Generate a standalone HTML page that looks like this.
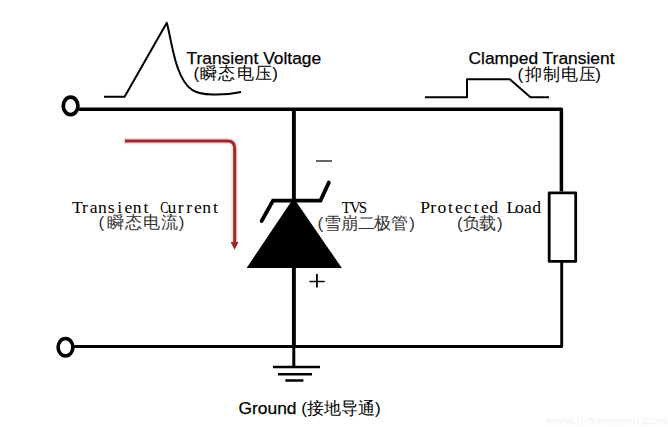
<!DOCTYPE html>
<html><head><meta charset="utf-8">
<style>
html,body{margin:0;padding:0;background:#fff;}
body{width:668px;height:427px;overflow:hidden;position:relative;}
svg{position:absolute;left:0;top:0;}
.s,.cj,.m{position:absolute;white-space:pre;line-height:1;color:#000;}
.s{font-family:"Liberation Sans",sans-serif;font-size:17.4px;-webkit-text-stroke:0.25px #000;}
.cj{font-family:"Liberation Sans",sans-serif;font-size:17px}
.m{font-family:"Liberation Serif",serif;}
.k{display:inline-block;text-align:center;}
.c{display:inline-block;width:8.6px;text-align:center;transform:scaleX(1.0);}
</style></head>
<body>
<svg width="668" height="427" viewBox="0 0 668 427">
  <g fill="none" stroke="#000" stroke-linecap="butt" stroke-linejoin="round">
    <ellipse cx="70.6" cy="105.9" rx="7.3" ry="8.7" stroke-width="3.7"/>
    <ellipse cx="65.5" cy="347.2" rx="7.4" ry="8.7" stroke-width="3.6"/>
    <path d="M78.5,109.3 H561.4 V191.5" stroke-width="3.5"/>
    <path d="M74,346.5 H561.7 V262" stroke-width="2.9"/>
    <path d="M293.9,109 V346" stroke-width="3.9"/>
    <path d="M293.8,346 V366" stroke-width="3"/>
    <rect x="549.2" y="192.9" width="26.5" height="68.5" stroke-width="2.8"/>
    <path d="M261.6,221 L273,200.6 H320.5 L328.8,182.6" stroke-width="3.8" stroke-linejoin="miter" stroke-linecap="round"/>
    <path d="M104,96.7 H124.6 L166.8,22.8 C172,42 175,78 192,89.8 C201,95.5 222,96 241,92" stroke-width="2"/>
    <path d="M425,97.2 H467 V79.3 H509.8 L530.5,97.2 H549" stroke-width="2"/>
    <path d="M273,367 H320 M278,374.3 H312 M285.3,380.5 H303.4" stroke-width="2.5"/>
    <path d="M309.4,281.5 H324.8" stroke-width="1.4"/>
    <path d="M316.9,274 V287.6" stroke-width="1.8"/>
    <path d="M316,161 H332" stroke-width="1.5" stroke="#333"/>
    <path d="M124,141.1 H227.5 Q234.7,141.1 234.7,148.3 V244" stroke="#fadcdc" stroke-width="6.5"/>
    <path d="M125,141.1 H227.5 Q234.7,141.1 234.7,148.3 V243" stroke="#982a2e" stroke-width="3"/>
  </g>
  <polygon points="293.6,198 341.8,268 246.6,268" fill="#000"/>
  <polygon points="230.6,242 238.6,242 234.6,249.8" fill="#982a2e"/>
</svg>
<div class="s" style="left:186.5px;top:50px;">Transient Voltage</div>
<div class="cj" style="left:193.5px;top:65px;font-size:17px;color:#000"><span style="margin-right:0px">(</span><span class="k" style="width:18.5px">瞬</span><span class="k" style="width:18.5px">态</span><span class="k" style="width:18.5px">电</span><span class="k" style="width:18.5px">压</span><span style="margin-left:-1px">)</span></div>
<div class="s" style="left:468.5px;top:50px;">Clamped Transient</div>
<div class="cj" style="left:517.5px;top:65.5px;font-size:17px;color:#000"><span style="margin-right:1px">(</span><span class="k" style="width:18px">抑</span><span class="k" style="width:18px">制</span><span class="k" style="width:18px">电</span><span class="k" style="width:18px">压</span><span style="margin-left:-1px">)</span></div>
<div class="m" style="left:72px;top:199px;font-size:17.6px"><span class="c" style="width:8.7px;">T</span><span class="c" style="width:8.7px;">r</span><span class="c" style="width:8.7px;">a</span><span class="c" style="width:8.7px;">n</span><span class="c" style="width:8.7px;">s</span><span class="c" style="width:8.7px;">i</span><span class="c" style="width:8.7px;">e</span><span class="c" style="width:8.7px;">n</span><span class="c" style="width:8.7px;">t</span><span class="c" style="width:8.7px">&nbsp;</span><span class="c" style="width:8.7px;transform:scaleX(0.7);">C</span><span class="c" style="width:8.7px;">u</span><span class="c" style="width:8.7px;">r</span><span class="c" style="width:8.7px;">r</span><span class="c" style="width:8.7px;">e</span><span class="c" style="width:8.7px;">n</span><span class="c" style="width:8.7px;">t</span></div>
<div class="cj" style="left:98.5px;top:214px;font-size:17px;color:#333"><span style="margin-right:2.6px">(</span><span class="k" style="width:18px">瞬</span><span class="k" style="width:18px">态</span><span class="k" style="width:18px">电</span><span class="k" style="width:18px">流</span><span style="margin-left:0px">)</span></div>
<div class="m" style="left:340.7px;top:199px;font-size:17.6px"><span class="c" style="width:8.6px;transform:scaleX(0.85);">T</span><span class="c" style="width:8.6px;transform:scaleX(0.85);">V</span><span class="c" style="width:8.6px;transform:scaleX(0.85);">S</span></div>
<div class="cj" style="left:317.5px;top:214.5px;font-size:17px;color:#333"><span style="margin-right:1.2px">(</span><span class="k" style="width:16.7px">雪</span><span class="k" style="width:16.7px">崩</span><span class="k" style="width:16.7px">二</span><span class="k" style="width:16.7px">极</span><span class="k" style="width:16.7px">管</span><span style="margin-left:1.5px">)</span></div>
<div class="m" style="left:420.2px;top:199px;font-size:17.6px"><span class="c" style="width:8.63px;">P</span><span class="c" style="width:8.63px;">r</span><span class="c" style="width:8.63px;">o</span><span class="c" style="width:8.63px;">t</span><span class="c" style="width:8.63px;">e</span><span class="c" style="width:8.63px;">c</span><span class="c" style="width:8.63px;">t</span><span class="c" style="width:8.63px;">e</span><span class="c" style="width:8.63px;">d</span><span class="c" style="width:8.63px">&nbsp;</span><span class="c" style="width:8.63px;">L</span><span class="c" style="width:8.63px;">o</span><span class="c" style="width:8.63px;">a</span><span class="c" style="width:8.63px;">d</span></div>
<div class="cj" style="left:457px;top:214.5px;font-size:17px;color:#333"><span style="margin-right:0.3px">(</span><span class="k" style="width:16.5px">负</span><span class="k" style="width:16.5px">载</span><span style="margin-left:1px">)</span></div>
<div class="s" style="left:545px;top:415px;font-weight:bold;font-size:12.2px;color:#f6f6f8;-webkit-text-stroke:0">www.b-tronsemi.com</div>
<div class="s" style="left:238.5px;top:400px;">Ground <span style="font-size:17px;-webkit-text-stroke:0">(接地导通)</span></div>
</body></html>
